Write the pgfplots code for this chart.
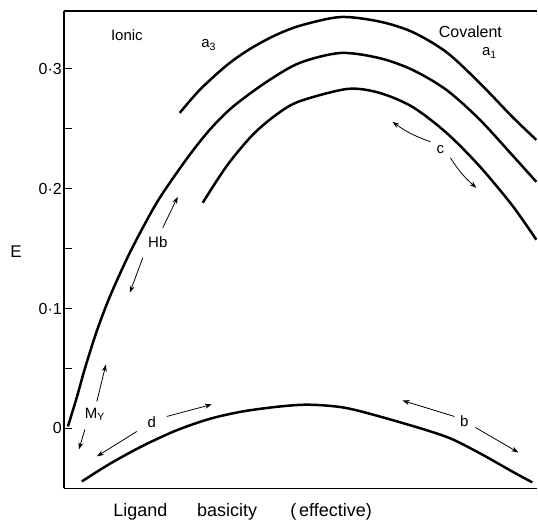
\documentclass[border=0pt]{standalone}
\usepackage{fontspec}
\setmainfont{Liberation Sans}
\usepackage{pgfplots}
\pgfplotsset{compat=1.18}
\usetikzlibrary{arrows.meta}
\begin{document}
\begin{tikzpicture}
\begin{axis}[
  scale only axis, width=474pt, height=478pt,
  xmin=64, xmax=538, ymin=-0.05, ymax=0.34833,
  axis lines=left, axis line style={-, line width=1.4pt},
  xtick=\empty,
  ytick={0,0.1,0.2,0.3},
  yticklabels={0,0·1,0·2,0·3},
  minor ytick={0.05,0.15,0.25},
  tick align=inside,
  major tick length=8pt, minor tick length=8pt,
  tick style={line width=1pt, black},
  yticklabel style={font=\fontsize{16}{18}\selectfont, anchor=east, inner sep=2pt},
  clip=false,
]
\path (axis cs:0,-0.08167) rectangle (axis cs:538,0.3575);
\draw[line width=1.4pt] (rel axis cs:0,1) -- (rel axis cs:1,1);
% curve a3
\addplot[black, line width=2.5pt, smooth] coordinates {
(180,0.2633)(200,0.2825)(227,0.3030)(250,0.3165)(275,0.3278)(301,0.3362)(341,0.3433)(380,0.3395)(413,0.3308)(447,0.3140)(480,0.2885)(513,0.2600)(537,0.2408)};
% middle curve
\addplot[black, line width=2.5pt, smooth] coordinates {
(68,0.0017)(77,0.0262)(85,0.0500)(97,0.0815)(110,0.1100)(127,0.1415)(143,0.1675)(160,0.1925)(187,0.2250)(210,0.2492)(233,0.2683)(267,0.2892)(300,0.3050)(341,0.3133)(380,0.3090)(413,0.2992)(447,0.2825)(480,0.2580)(513,0.2280)(537,0.2058)};
% curve c
\addplot[black, line width=2.5pt, smooth] coordinates {
(203,0.1883)(227,0.2190)(253,0.2450)(277,0.2620)(300,0.2730)(348,0.2833)(380,0.2800)(413,0.2683)(447,0.2467)(480,0.2190)(513,0.1860)(537,0.1575)};
% bottom curve
\addplot[black, line width=2.5pt, smooth] coordinates {
(82,-0.0442)(110,-0.0295)(143,-0.0145)(177,-0.0015)(210,0.0080)(243,0.0142)(280,0.0183)(310,0.0198)(347,0.0170)(397,0.0060)(447,-0.0070)(480,-0.0205)(513,-0.0360)(533,-0.0450)};
\tikzset{ann/.style={-{Stealth[length=7pt,width=5pt]}, line width=0.8pt}}
\draw[ann] (axis cs:431,0.2392) to[bend left=8] (axis cs:393,0.2558);
\draw[ann] (axis cs:451,0.2258) to[bend right=8] (axis cs:477,0.2008);
\draw[ann] (axis cs:163,0.1675) -- (axis cs:178,0.1933);
\draw[ann] (axis cs:143,0.1425) -- (axis cs:130,0.1133);
\draw[ann] (axis cs:97,0.0225) -- (axis cs:106,0.0533);
\draw[ann] (axis cs:85,-0.0008) -- (axis cs:79,-0.0175);
\draw[ann] (axis cs:137,-0.0025) -- (axis cs:97,-0.0233);
\draw[ann] (axis cs:167,0.010) -- (axis cs:212,0.020);
\draw[ann] (axis cs:455,0.010) -- (axis cs:403,0.0233);
\draw[ann] (axis cs:476,0.0008) -- (axis cs:519,-0.020);
\begin{scope}[every node/.style={font=\fontsize{15}{18}\selectfont}]
\node at (axis cs:441,0.2325) {c};
\node at (axis cs:158,0.1558) {Hb};
\node at (axis cs:95,0.0117) {M\textsubscript{Y}};
\node at (axis cs:152,0.005) {d};
\node at (axis cs:465,0.0058) {b};
\node at (axis cs:127,0.3283) {Ionic};
\node at (axis cs:209,0.320) {a\textsubscript{3}};
\node[font=\fontsize{16}{18}\selectfont] at (axis cs:471,0.3308) {Covalent};
\node at (axis cs:490,0.3133) {a\textsubscript{1}};
\node[font=\fontsize{17}{20}\selectfont] at (axis cs:16,0.1475) {E};
\node[font=\fontsize{18}{20}\selectfont] at (axis cs:140.5,-0.0692) {Ligand};
\node[font=\fontsize{18}{20}\selectfont] at (axis cs:227.5,-0.0692) {basicity};
\node[font=\fontsize{18}{20}\selectfont] at (axis cs:331.5,-0.0692) {(\,effective)};
\end{scope}
\end{axis}
\end{tikzpicture}
\end{document}
